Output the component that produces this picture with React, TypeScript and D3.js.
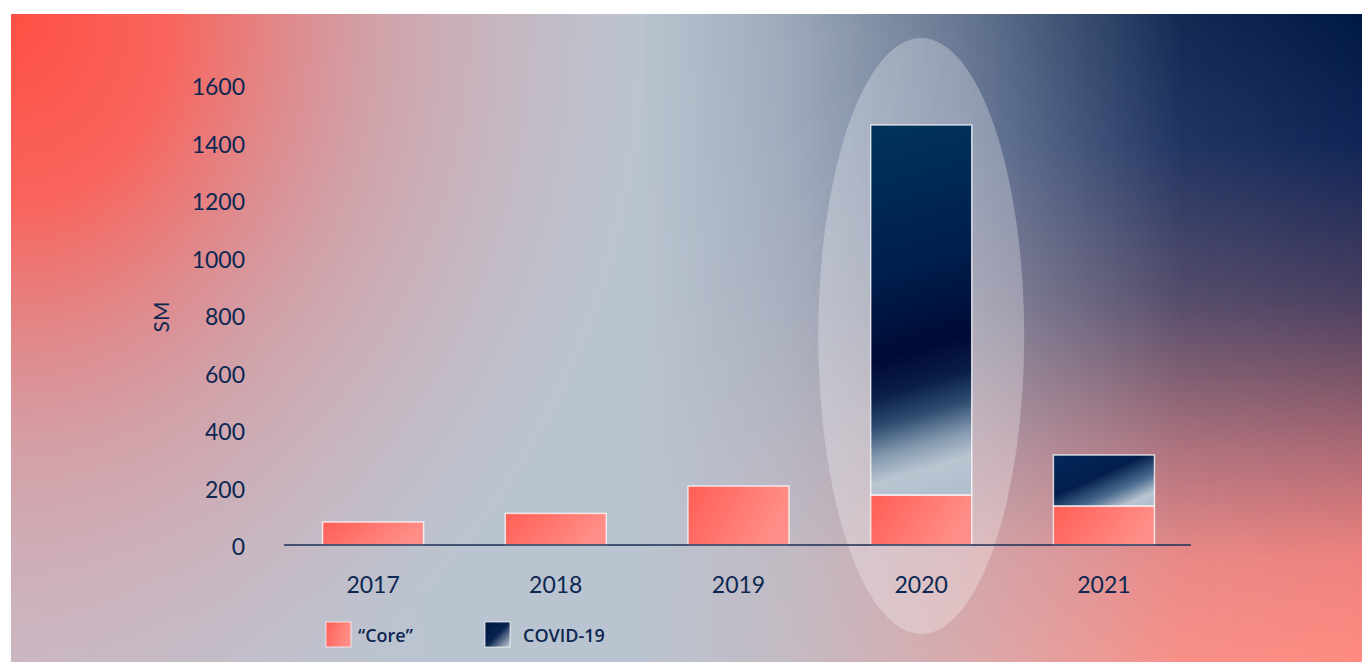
import React from "react";
import * as d3 from "d3";

const years = ["2017", "2018", "2019", "2020", "2021"];
const coreValues = [80, 110, 205, 174, 136];
const covidValues = [0, 0, 0, 1287, 177];
const yTicks = [0, 200, 400, 600, 800, 1000, 1200, 1400, 1600];
const yLabel = "SM";
const legendItems = ["\u201CCore\u201D", "COVID-19"];

const W = 1362;
const H = 662;
const NAVY = "#0C2752";

export default function App() {
  const x = d3.scaleBand<string>().domain(years).range([286, 1191]).paddingInner(0.447).paddingOuter(0.2);
  const y = d3.scaleLinear().domain([0, 1600]).range([545, 85]);
  const stack = d3.stack<any>().keys(["core", "covid"])(
    years.map((yr, i) => ({ year: yr, core: coreValues[i], covid: covidValues[i] }))
  );
  const bw = x.bandwidth();
  const hl = x("2020")! + bw / 2;

  return (
    <svg width={W} height={H} style={{ position: "absolute", left: 0, top: 0 }}>
      <defs>
        <radialGradient id="bgRed" gradientUnits="userSpaceOnUse" cx={11} cy={14} r={640}
          gradientTransform="translate(11,14) scale(1,1.2) translate(-11,-14)">
          <stop offset="0" stopColor="#FF4F44" stopOpacity={1} />
          <stop offset="0.25" stopColor="#FF5A50" stopOpacity={0.9} />
          <stop offset="0.55" stopColor="#F07070" stopOpacity={0.45} />
          <stop offset="1" stopColor="#E8A0A8" stopOpacity={0} />
        </radialGradient>
        <linearGradient id="bgRightCol" gradientUnits="userSpaceOnUse" x1={0} y1={14} x2={0} y2={662}>
          <stop offset="0" stopColor="#001845" />
          <stop offset="0.2" stopColor="#102556" />
          <stop offset="0.44" stopColor="#4A3F60" />
          <stop offset="0.56" stopColor="#7A5468" />
          <stop offset="0.68" stopColor="#B06A75" />
          <stop offset="0.84" stopColor="#EE827E" />
          <stop offset="1" stopColor="#FF8A80" />
        </linearGradient>
        <linearGradient id="bgRightMaskG" gradientUnits="userSpaceOnUse" x1={1362} y1={0} x2={640} y2={0}>
          <stop offset="0" stopColor="#fff" stopOpacity={1} />
          <stop offset="0.25" stopColor="#fff" stopOpacity={0.9} />
          <stop offset="0.55" stopColor="#fff" stopOpacity={0.45} />
          <stop offset="0.8" stopColor="#fff" stopOpacity={0.15} />
          <stop offset="1" stopColor="#fff" stopOpacity={0} />
        </linearGradient>
        <mask id="bgRightMask" maskUnits="userSpaceOnUse" x={0} y={0} width={W} height={H}>
          <rect x={0} y={0} width={W} height={H} fill="url(#bgRightMaskG)" />
        </mask>
        <radialGradient id="bgBL" gradientUnits="userSpaceOnUse" cx={11} cy={662} r={420}>
          <stop offset="0" stopColor="#C8BCC8" stopOpacity={0.7} />
          <stop offset="1" stopColor="#C8BCC8" stopOpacity={0} />
        </radialGradient>
        <linearGradient id="coreFill" x1="0" y1="0" x2="1" y2="0.3">
          <stop offset="0" stopColor="#FF5E55" />
          <stop offset="1" stopColor="#FF8E88" />
        </linearGradient>
        <linearGradient id="covidFill" x1="0.46" y1="0" x2="0.54" y2="1">
          <stop offset="0" stopColor="#00325C" />
          <stop offset="0.4" stopColor="#001C4A" />
          <stop offset="0.6" stopColor="#000A35" />
          <stop offset="0.7" stopColor="#0A1E48" />
          <stop offset="0.78" stopColor="#2E4C70" />
          <stop offset="0.86" stopColor="#8398AE" />
          <stop offset="0.93" stopColor="#BAC5D1" />
          <stop offset="1" stopColor="#B2C0CE" />
        </linearGradient>
        <linearGradient id="covidFill2" x1="0" y1="0" x2="0.9" y2="1">
          <stop offset="0" stopColor="#02285A" />
          <stop offset="0.45" stopColor="#031E4C" />
          <stop offset="0.7" stopColor="#4A6A8E" />
          <stop offset="0.9" stopColor="#BAC5D1" />
          <stop offset="1" stopColor="#B0BECC" />
        </linearGradient>
        <linearGradient id="legCovid" x1="0" y1="0" x2="1" y2="1">
          <stop offset="0" stopColor="#001540" />
          <stop offset="0.5" stopColor="#0A2550" />
          <stop offset="1" stopColor="#C8D0DA" />
        </linearGradient>
      </defs>

      <rect x={0} y={0} width={W} height={H} fill="#fff" />
      <g>
        <rect x={11} y={14} width={W - 11} height={H - 14} fill="#BAC4D0" />
        <rect x={11} y={14} width={W - 11} height={H - 14} fill="url(#bgBL)" />
        <rect x={11} y={14} width={W - 11} height={H - 14} fill="url(#bgRed)" />
        <rect x={11} y={14} width={W - 11} height={H - 14} fill="url(#bgRightCol)" mask="url(#bgRightMask)" />
      </g>

      <ellipse cx={hl} cy={336} rx={103} ry={298} fill="#ffffff" fillOpacity={0.28} />

      {yTicks.map((t) => (
        <text key={t} x={245} y={y(t) + 1} textAnchor="end" dominantBaseline="central"
          fontFamily="Lato, sans-serif" fontSize={23} fill={NAVY}>
          {t}
        </text>
      ))}
      <text transform={`translate(160,317) rotate(-90)`} textAnchor="middle" dominantBaseline="central"
        fontFamily="Lato, sans-serif" fontSize={21} fill={NAVY}>
        {yLabel}
      </text>

      {stack.map((layer, li) =>
        layer.map((d, i) => {
          if (d[1] - d[0] <= 0) return null;
          const yr = years[i];
          const fill = li === 0 ? "url(#coreFill)" : yr === "2020" ? "url(#covidFill)" : "url(#covidFill2)";
          return (
            <rect key={`${li}-${i}`} x={x(yr)!} y={y(d[1])} width={bw} height={y(d[0]) - y(d[1])}
              fill={fill} stroke="#ffffff" strokeOpacity={0.75} strokeWidth={1.5} />
          );
        })
      )}

      <line x1={284} x2={1191} y1={y(0)} y2={y(0)} stroke="#1B2E55" strokeWidth={1.6} />

      {years.map((yr) => (
        <text key={yr} x={x(yr)! + bw / 2} y={584} textAnchor="middle" dominantBaseline="central"
          fontFamily="Lato, sans-serif" fontSize={23} fill={NAVY}>
          {yr}
        </text>
      ))}

      <rect x={326} y={622} width={25} height={25} fill="url(#coreFill)" stroke="#fff" strokeOpacity={0.7} strokeWidth={1} />
      <text x={358} y={635} dominantBaseline="central" fontFamily="'Open Sans', sans-serif" fontWeight={600}
        fontSize={18} fill={NAVY}>{legendItems[0]}</text>
      <rect x={485} y={622} width={25} height={25} fill="url(#legCovid)" stroke="#fff" strokeOpacity={0.7} strokeWidth={1} />
      <text x={523} y={635} dominantBaseline="central" fontFamily="'Open Sans', sans-serif" fontWeight={600}
        fontSize={18} fill={NAVY}>{legendItems[1]}</text>
    </svg>
  );
}
